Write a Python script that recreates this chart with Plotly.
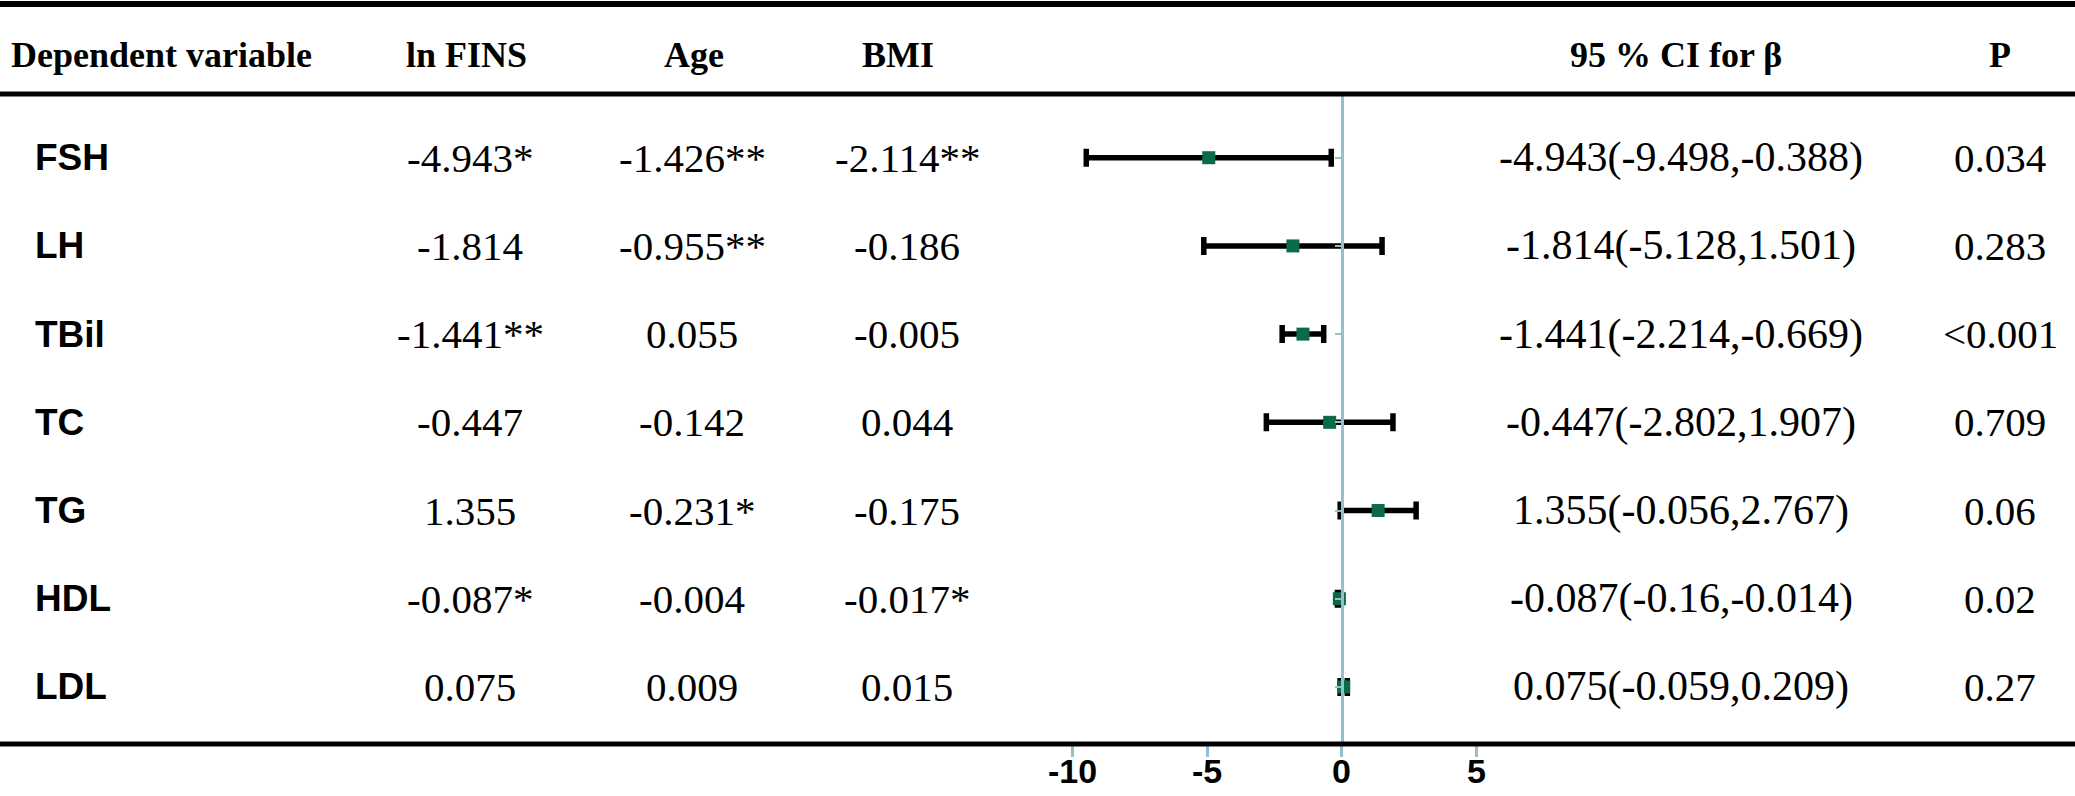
import plotly.graph_objects as go

# ---------------- data ----------------
dep_vars = ["FSH", "LH", "TBil", "TC", "TG", "HDL", "LDL"]
ln_fins = ["-4.943*", "-1.814", "-1.441**", "-0.447", "1.355", "-0.087*", "0.075"]
age = ["-1.426**", "-0.955**", "0.055", "-0.142", "-0.231*", "-0.004", "0.009"]
bmi = ["-2.114**", "-0.186", "-0.005", "0.044", "-0.175", "-0.017*", "0.015"]
beta = [-4.943, -1.814, -1.441, -0.447, 1.355, -0.087, 0.075]
ci_low = [-9.498, -5.128, -2.214, -2.802, -0.056, -0.16, -0.059]
ci_high = [-0.388, 1.501, -0.669, 1.907, 2.767, -0.014, 0.209]
p_values = ["0.034", "0.283", "<0.001", "0.709", "0.06", "0.02", "0.27"]
headers = ["Dependent variable", "ln FINS", "Age", "BMI", "95 % CI for β", "P"]
x_ticks = [-10, -5, 0, 5]
x_tick_text = ["-10", "-5", "0", "5"]

ci_text = [f"{b:g}({l:g},{h:g})" for b, l, h in zip(beta, ci_low, ci_high)]

# ---------------- layout geometry ----------------
W, H = 2075, 796
px = lambda v: v / W
py = lambda v: 1 - v / H

x_range = [-12, 5.5]
x_dom = [px(1019), px(1489.6)]
y_dom = [py(744), py(95)]
y_range = [6.647, -0.711]
zero_pos = x_dom[0] + (0 - x_range[0]) / (x_range[1] - x_range[0]) * (x_dom[1] - x_dom[0])

axis_blue = "#93bfce"
serif = "Liberation Serif"
sans = "Liberation Sans"

fig = go.Figure()
fig.add_trace(go.Scatter(
    x=beta, y=dep_vars, mode="markers",
    marker=dict(symbol="square", size=13, color="#0b6b48"),
    error_x=dict(type="data", symmetric=False,
                 array=[h - b for b, h in zip(beta, ci_high)],
                 arrayminus=[b - l for b, l in zip(beta, ci_low)],
                 color="black", thickness=5.5, width=9),
    showlegend=False, hoverinfo="skip", cliponaxis=False,
))

annotations = []
# header row
hdr_y = py(55)
hdr_x = [None, 466, 694, 898, 1676, 2000]
hdr_font = dict(family=serif, size=36, color="black", weight="bold")
for i, (t, xc) in enumerate(zip(headers, hdr_x)):
    if i == 0:
        annotations.append(dict(x=px(9), y=hdr_y, xref="paper", yref="paper", text=t,
                                xanchor="left", yanchor="middle", showarrow=False,
                                font=hdr_font))
    else:
        annotations.append(dict(x=px(xc), y=hdr_y, xref="paper", yref="paper", text=t,
                                xanchor="center", yanchor="middle", showarrow=False,
                                font=hdr_font))

val_font = dict(family=serif, size=41, color="black")
ci_font = dict(family=serif, size=42, color="black")
for i, name in enumerate(dep_vars):
    annotations.append(dict(x=px(33), y=name, xref="paper", yref="y", text=name,
                            xanchor="left", yanchor="middle", showarrow=False,
                            font=dict(family=sans, size=37, color="black", weight="bold")))
    for col, xc, f in ((ln_fins, 470, val_font), (age, 692, val_font), (bmi, 907, val_font),
                       (ci_text, 1681, ci_font), (p_values, 2000, val_font)):
        annotations.append(dict(x=px(xc), y=name, xref="paper", yref="y", text=col[i],
                                xanchor="center", yanchor="middle", showarrow=False,
                                font=f))

# x-axis tick labels placed on the axis's own scale
for tv, tt in zip(x_ticks, x_tick_text):
    annotations.append(dict(x=tv, y=py(771), xref="x", yref="paper", text=tt,
                            xanchor="center", yanchor="middle", showarrow=False,
                            font=dict(family=sans, size=34, color="black", weight="bold")))

shapes = []
for yc, wdt in ((4, 6), (94, 5), (744, 5)):
    shapes.append(dict(type="line", xref="paper", yref="paper", x0=0, x1=1,
                       y0=py(yc), y1=py(yc), line=dict(color="black", width=wdt)))

fig.update_layout(
    width=W, height=H, autosize=False,
    margin=dict(l=0, r=0, t=0, b=0, pad=0),
    paper_bgcolor="white", plot_bgcolor="white",
    xaxis=dict(domain=x_dom, range=x_range, tickvals=x_ticks, showticklabels=False,
               ticks="outside", ticklen=12, tickwidth=2.5, tickcolor=axis_blue,
               automargin=False,
               showgrid=False, zeroline=False, showline=False),
    yaxis=dict(domain=y_dom, range=y_range, type="category", categoryarray=dep_vars,
               showgrid=False, zeroline=False, showticklabels=False,
               showline=True, linecolor=axis_blue, linewidth=2.5,
               ticks="outside", ticklen=6, tickwidth=2, tickcolor=axis_blue,
               automargin=False,
               anchor="free", position=zero_pos),
    annotations=annotations,
    shapes=shapes,
)

fig.write_html("out.html", config={"displayModeBar": False},
               post_script="document.body.style.margin='0';document.body.style.overflow='hidden';")
